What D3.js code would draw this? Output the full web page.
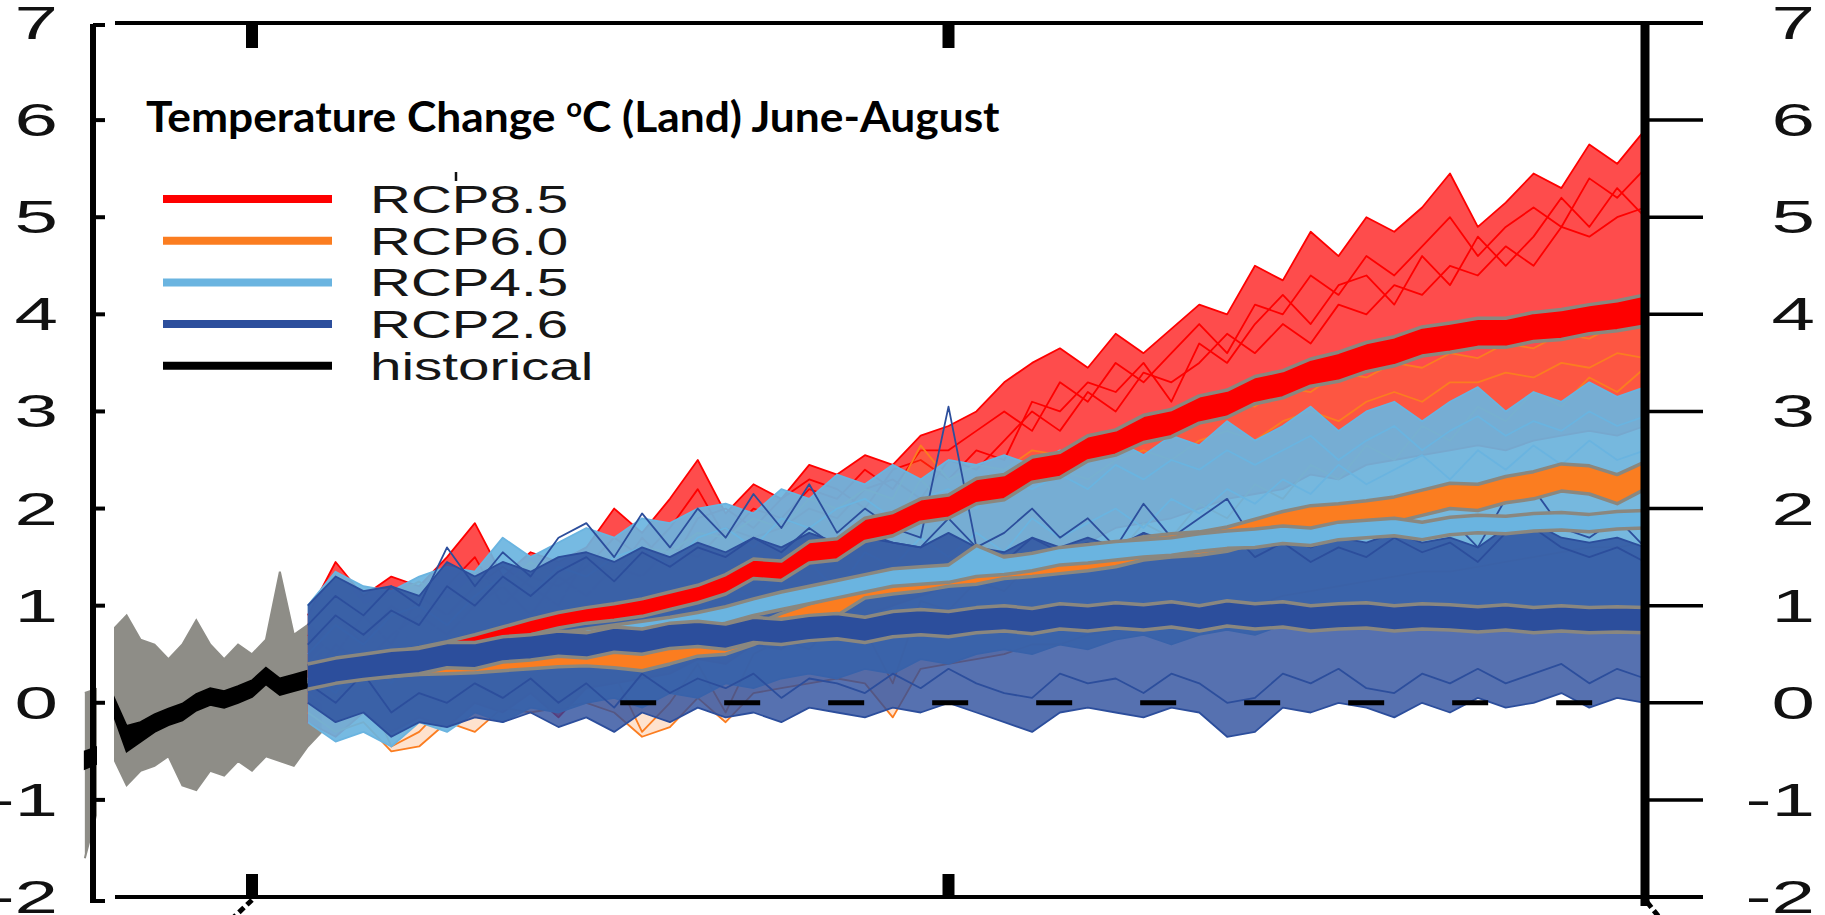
<!DOCTYPE html>
<html>
<head>
<meta charset="utf-8">
<script src="https://cdn.jsdelivr.net/npm/d3@7"></script>
<style>
body { margin:0; background:#fff; overflow:hidden; }
</style>
</head>
<body>
<div id="chart"></div>
<script>
var canvasWidth = 1825;
var canvasHeight = 915;

/* years (historical yearly, projections every 2 years) */
var histYears = d3.range(1988, 2006);
var projYears = d3.range(2004, 2101, 2);
var yTicks = [7, 6, 5, 4, 3, 2, 1, 0, -1, -2];
var xTickYears = [2000, 2050];
var legendNames = ["RCP8.5", "RCP6.0", "RCP4.5", "RCP2.6", "historical"];
var legendColors = ["#fe0000", "#fb7d20", "#6ab4e0", "#2c4e9c", "#000000"];

/* historical runs: envelope and multi-model mean band */
var histHi = [0.1, 0.15, 0.75, 0.9, 0.65, 0.6, 0.45, 0.6, 0.85, 0.6, 0.45, 0.6, 0.5, 0.65, 1.35, 0.7, 0.8, 0.7];
var histLo = [-1.6, -1.05, -0.55, -0.85, -0.7, -0.65, -0.55, -0.85, -0.9, -0.7, -0.75, -0.6, -0.7, -0.55, -0.6, -0.65, -0.45, -0.3];
var histBandLo = [-0.68, -0.62, -0.1, -0.5, -0.4, -0.3, -0.23, -0.18, -0.08, -0.02, -0.05, 0.0, 0.06, 0.19, 0.08, 0.12, 0.16, 0.19];
var histBandHi = [-0.5, -0.45, 0.08, -0.24, -0.2, -0.12, -0.06, -0.01, 0.09, 0.15, 0.12, 0.17, 0.23, 0.36, 0.25, 0.29, 0.33, 0.35];

/* RCP8.5 */
var rcp85Hi = [0.9, 1.45, 1.1, 1.3, 1.2, 1.5, 1.85, 1.3, 1.55, 1.45,
  1.6, 2.0, 1.75, 2.1, 2.5, 1.95, 2.25, 2.1, 2.45, 2.35,
  2.55, 2.45, 2.75, 2.85, 3.0, 3.3, 3.5, 3.65, 3.45, 3.8,
  3.6, 3.85, 4.1, 4.0, 4.5, 4.35, 4.85, 4.6, 5.0, 4.85,
  5.1, 5.45, 4.9, 5.15, 5.45, 5.3, 5.75, 5.55, 5.9];
var rcp85Lo = [-0.2, -0.35, -0.1, -0.3, -0.15, -0.25, 0.0, -0.1, 0.1, -0.15,
  0.15, 0.2, 0.25, 0.3, 0.45, 0.4, 0.6, 0.55, 0.75, 0.8,
  0.9, 1.0, 1.1, 1.2, 1.25, 1.4, 1.45, 1.6, 1.65, 1.8,
  1.85, 1.9, 2.0, 2.1, 2.15, 2.2, 2.35, 2.3, 2.45, 2.5,
  2.55, 2.6, 2.65, 2.6, 2.7, 2.75, 2.8, 2.75, 2.85];
var rcp85RunA = [0.5, 0.9, 0.6, 1.0, 0.8, 1.2, 1.5, 1.0, 1.3, 1.2,
  1.4, 1.7, 1.5, 1.8, 2.2, 1.7, 2.0, 1.9, 2.2, 2.1,
  2.4, 2.2, 2.6, 2.6, 2.8, 3.0, 2.8, 3.3, 3.1, 3.5,
  3.3, 3.6, 3.9, 3.6, 4.1, 4.0, 4.4, 4.2, 4.6, 4.4,
  4.7, 5.0, 4.6, 4.9, 5.1, 4.9, 5.4, 5.2, 5.5];
var rcp85RunB = [0.2, 0.6, 0.4, 0.7, 0.9, 0.7, 1.0, 1.2, 0.9, 1.3,
  1.1, 1.4, 1.3, 1.6, 1.5, 1.8, 1.7, 1.8, 2.0, 1.9,
  2.2, 2.3, 2.1, 2.5, 2.4, 2.7, 3.0, 2.8, 3.2, 3.0,
  3.4, 3.3, 3.5, 3.8, 3.6, 3.9, 3.7, 4.1, 4.0, 4.3,
  4.2, 4.5, 4.4, 4.7, 4.5, 4.9, 4.8, 5.0, 5.1];
var rcp85RunC = [0.7, 0.5, 0.9, 0.6, 1.1, 0.9, 1.2, 1.4, 1.2, 1.0,
  1.5, 1.3, 1.7, 1.4, 1.9, 2.0, 1.8, 2.1, 2.3, 2.2,
  2.0, 2.4, 2.5, 2.3, 2.6, 2.5, 3.1, 3.0, 3.3, 3.2,
  3.5, 3.1, 3.7, 3.5, 3.9, 4.2, 3.9, 4.3, 4.4, 4.1,
  4.6, 4.3, 4.8, 4.5, 4.8, 5.2, 4.9, 5.3, 5.0];
var rcp85BandLo = [0.24, 0.28, 0.33, 0.38, 0.43, 0.47, 0.54, 0.62, 0.7, 0.77,
  0.82, 0.85, 0.89, 0.96, 1.03, 1.12, 1.28, 1.26, 1.44, 1.47,
  1.66, 1.72, 1.86, 1.9, 2.05, 2.09, 2.27, 2.32, 2.49, 2.55,
  2.68, 2.74, 2.88, 2.94, 3.08, 3.14, 3.26, 3.31, 3.41, 3.47,
  3.57, 3.61, 3.66, 3.66, 3.72, 3.74, 3.8, 3.83, 3.88];
var rcp85BandHi = [0.36, 0.42, 0.47, 0.52, 0.57, 0.63, 0.7, 0.78, 0.86, 0.93,
  0.98, 1.02, 1.07, 1.14, 1.21, 1.32, 1.48, 1.46, 1.66, 1.69,
  1.9, 1.96, 2.1, 2.14, 2.31, 2.35, 2.53, 2.58, 2.75, 2.81,
  2.96, 3.02, 3.16, 3.22, 3.36, 3.42, 3.54, 3.61, 3.71, 3.77,
  3.87, 3.91, 3.96, 3.96, 4.02, 4.05, 4.1, 4.14, 4.2];

/* RCP6.0 */
var rcp60Hi = [0.8, 1.35, 1.0, 1.1, 1.25, 1.05, 1.3, 1.2, 1.45, 1.3,
  1.5, 1.4, 1.6, 1.55, 1.75, 1.7, 1.9, 1.8, 2.1, 2.0,
  2.2, 2.1, 2.65, 2.3, 2.45, 2.4, 2.6, 2.55, 2.75, 2.7,
  2.9, 2.85, 3.0, 3.1, 3.05, 3.25, 3.2, 3.4, 3.35, 3.5,
  3.45, 3.6, 3.55, 3.7, 3.65, 3.8, 3.75, 3.9, 3.85];
var rcp60Lo = [-0.1, -0.3, -0.2, -0.5, -0.45, -0.2, -0.3, -0.05, -0.1, -0.05,
  0.0, -0.1, -0.35, -0.25, 0.05, -0.2, 0.1, 0.15, 0.2, 0.25,
  0.2, -0.15, 0.35, 0.4, 0.45, 0.5, 0.6, 0.6, 0.7, 0.75,
  0.8, 0.85, 0.9, 1.0, 1.0, 1.1, 1.15, 1.2, 1.25, 1.3,
  1.35, 1.35, 1.4, 1.45, 1.5, 1.55, 1.6, 1.6, 1.65];
var rcp60RunA = [0.4, 0.7, 0.5, 0.8, 0.6, 0.9, 0.8, 1.0, 0.9, 1.1,
  1.2, 1.0, 1.3, 1.2, 1.4, 1.5, 1.4, 1.6, 1.7, 1.6,
  1.9, 1.8, 2.3, 2.0, 2.2, 2.1, 2.3, 2.4, 2.3, 2.5,
  2.6, 2.5, 2.7, 2.8, 2.7, 2.9, 3.0, 2.9, 3.1, 3.2,
  3.1, 3.3, 3.3, 3.4, 3.35, 3.5, 3.45, 3.6, 3.55];
var rcp60RunB = [0.1, -0.1, 0.2, -0.45, -0.3, 0.0, 0.2, 0.1, 0.3, 0.2,
  0.4, 0.3, -0.3, 0.0, 0.4, -0.1, 0.5, 0.65, 0.55, 0.85,
  0.75, 0.2, 1.05, 0.95, 1.25, 1.15, 1.45, 1.3, 1.6, 1.5,
  1.85, 1.7, 2.05, 1.9, 2.25, 2.1, 2.45, 2.3, 2.65, 2.5,
  2.85, 2.7, 3.05, 2.9, 3.2, 3.05, 3.35, 3.2, 3.45];
var rcp60BandLo = [0.22, 0.24, 0.25, 0.27, 0.29, 0.3, 0.31, 0.33, 0.35, 0.37,
  0.38, 0.36, 0.33, 0.4, 0.48, 0.5, 0.6, 0.72, 0.82, 0.9,
  1.08, 1.12, 1.15, 1.2, 1.22, 1.28, 1.3, 1.33, 1.36, 1.4,
  1.47, 1.5, 1.52, 1.56, 1.64, 1.72, 1.78, 1.8, 1.82, 1.86,
  1.93, 2.0, 1.98, 2.06, 2.1, 2.18, 2.15, 2.05, 2.2];
var rcp60BandHi = [0.36, 0.38, 0.39, 0.41, 0.43, 0.46, 0.47, 0.49, 0.51, 0.53,
  0.55, 0.54, 0.51, 0.58, 0.66, 0.68, 0.8, 0.92, 1.02, 1.1,
  1.3, 1.34, 1.37, 1.42, 1.45, 1.51, 1.53, 1.57, 1.6, 1.64,
  1.71, 1.74, 1.76, 1.81, 1.89, 1.97, 2.03, 2.05, 2.08, 2.12,
  2.19, 2.26, 2.25, 2.33, 2.38, 2.46, 2.44, 2.35, 2.48];

/* RCP4.5 */
var rcp45Hi = [1.0, 1.35, 1.2, 1.15, 1.3, 1.4, 1.35, 1.7, 1.5, 1.65,
  1.8, 1.7, 1.9, 1.85, 2.0, 2.05, 1.95, 2.2, 2.1, 2.35,
  2.25, 2.45, 2.3, 2.5, 2.45, 2.55, 2.45, 2.6, 2.5, 2.7,
  2.55, 2.75, 2.65, 2.9, 2.7, 2.85, 3.05, 2.8, 3.0, 3.1,
  2.9, 3.1, 3.25, 3.0, 3.2, 3.1, 3.3, 3.15, 3.25];
var rcp45Lo = [-0.2, -0.4, -0.3, -0.45, -0.2, -0.3, -0.1, -0.2, -0.05, -0.1,
  0.0, 0.05, -0.05, 0.1, 0.05, 0.2, 0.15, 0.25, 0.3, 0.25,
  0.35, 0.3, 0.45, 0.4, 0.5, 0.55, 0.5, 0.6, 0.55, 0.65,
  0.7, 0.6, 0.7, 0.75, 0.7, 0.8, 0.75, 0.8, 0.85, 0.8,
  0.9, 0.85, 0.9, 0.95, 0.9, 0.95, 1.0, 0.95, 1.0];
var rcp45RunA = [0.5, 0.8, 0.6, 0.9, 1.0, 0.8, 1.1, 1.3, 1.1, 1.4,
  1.3, 1.5, 1.6, 1.4, 1.7, 1.8, 1.6, 1.9, 1.8, 2.0,
  2.1, 1.9, 2.1, 2.2, 2.0, 2.3, 2.2, 2.35, 2.2, 2.45,
  2.3, 2.5, 2.4, 2.6, 2.45, 2.6, 2.75, 2.5, 2.7, 2.85,
  2.6, 2.8, 2.95, 2.75, 2.9, 2.8, 3.0, 2.85, 2.95];
var rcp45RunB = [0.3, 0.1, 0.5, 0.2, 0.6, 0.4, 0.7, 0.5, 0.8, 0.7,
  0.9, 0.8, 1.0, 1.1, 0.9, 1.25, 1.05, 1.35, 1.45, 1.15,
  1.55, 1.4, 1.7, 1.5, 1.75, 1.55, 1.9, 1.7, 1.85, 2.0,
  1.8, 2.1, 1.95, 2.2, 2.05, 2.3, 2.15, 2.45, 2.25, 2.4,
  2.55, 2.3, 2.6, 2.4, 2.65, 2.45, 2.7, 2.5, 2.6];
var rcp45BandLo = [0.2, 0.25, 0.29, 0.32, 0.36, 0.4, 0.44, 0.48, 0.52, 0.56,
  0.6, 0.64, 0.68, 0.71, 0.76, 0.82, 0.9, 0.96, 1.02, 1.08,
  1.14, 1.2, 1.22, 1.24, 1.3, 1.32, 1.36, 1.42, 1.44, 1.47,
  1.5, 1.52, 1.56, 1.59, 1.6, 1.64, 1.62, 1.68, 1.7, 1.72,
  1.68, 1.73, 1.75, 1.74, 1.77, 1.78, 1.76, 1.79, 1.8];
var rcp45BandHi = [0.36, 0.41, 0.45, 0.48, 0.52, 0.56, 0.6, 0.64, 0.68, 0.72,
  0.76, 0.8, 0.84, 0.88, 0.93, 0.99, 1.07, 1.14, 1.2, 1.26,
  1.32, 1.38, 1.4, 1.42, 1.62, 1.5, 1.54, 1.6, 1.63, 1.66,
  1.68, 1.7, 1.74, 1.77, 1.79, 1.82, 1.8, 1.86, 1.88, 1.9,
  1.86, 1.91, 1.93, 1.92, 1.95, 1.96, 1.94, 1.97, 1.98];

/* RCP2.6 */
var rcp26Hi = [1.0, 1.3, 1.15, 1.2, 1.1, 1.45, 1.3, 1.45, 1.35, 1.5,
  1.55, 1.45, 1.6, 1.5, 1.65, 1.55, 1.7, 1.6, 1.75, 1.65,
  1.7, 1.65, 1.6, 1.75, 1.6, 1.55, 1.7, 1.6, 1.7, 1.6,
  1.75, 1.65, 1.7, 1.8, 1.6, 1.7, 1.6, 1.7, 1.65, 1.75,
  1.65, 1.7, 1.6, 1.8, 1.85, 1.7, 1.65, 1.7, 1.6];
var rcp26Lo = [0.0, -0.2, -0.1, -0.35, -0.2, -0.25, -0.15, -0.2, -0.1, -0.25,
  -0.15, -0.3, -0.1, -0.2, -0.05, -0.15, -0.1, -0.2, -0.05, -0.1,
  -0.15, -0.05, -0.1, 0.0, -0.1, -0.2, -0.3, -0.1, -0.05, -0.1,
  -0.15, -0.05, -0.1, -0.35, -0.3, -0.05, -0.1, 0.0, -0.05, -0.15,
  0.0, -0.1, 0.05, -0.05, 0.0, 0.1, -0.05, 0.05, 0.0];
var rcp26RunA = [0.2, 0.0, 0.3, -0.1, 0.1, 0.0, 0.2, 0.05, 0.25, 0.0,
  0.2, -0.05, 0.3, 0.1, 0.25, 0.15, 0.3, 0.05, 0.25, 0.2,
  0.1, 0.3, 0.15, 0.35, 0.2, 0.1, 0.05, 0.3, 0.2, 0.25,
  0.1, 0.3, 0.2, 0.0, 0.05, 0.3, 0.2, 0.35, 0.15, 0.1,
  0.3, 0.2, 0.35, 0.2, 0.3, 0.4, 0.2, 0.35, 0.25];
var rcp26RunB = [0.6, 0.9, 0.7, 0.95, 0.8, 1.2, 1.0, 1.3, 1.1, 1.35,
  1.5, 1.25, 1.55, 1.4, 1.6, 1.5, 1.7, 1.55, 1.8, 1.6,
  1.75, 1.65, 1.6, 1.9, 1.6, 1.45, 1.7, 1.55, 1.65, 1.5,
  1.75, 1.55, 1.7, 1.8, 1.5, 1.65, 1.45, 1.6, 1.5, 1.7,
  1.55, 1.65, 1.45, 1.75, 1.8, 1.6, 1.5, 1.6, 1.45];
var rcp26RunC = [0.8, 1.1, 0.9, 1.2, 1.0, 1.6, 1.2, 1.55, 1.3, 1.7,
  1.85, 1.5, 1.95, 1.6, 2.0, 1.7, 2.15, 1.8, 2.25, 1.75,
  2.0, 1.8, 1.7, 3.05, 1.6, 1.75, 2.0, 1.7, 1.9, 1.6,
  2.05, 1.7, 1.9, 2.1, 1.65, 1.85, 1.6, 1.8, 1.7, 2.05,
  1.75, 1.9, 1.6, 2.1, 2.2, 1.8, 1.7, 1.9, 1.6];
var rcp26BandLo = [0.14, 0.2, 0.24, 0.27, 0.3, 0.36, 0.35, 0.42, 0.44, 0.48,
  0.46, 0.52, 0.5, 0.56, 0.58, 0.55, 0.62, 0.6, 0.64, 0.66,
  0.62, 0.68, 0.7, 0.68, 0.72, 0.74, 0.71, 0.76, 0.74, 0.77,
  0.75, 0.78, 0.74, 0.79, 0.76, 0.78, 0.74, 0.76, 0.77, 0.74,
  0.76, 0.75, 0.73, 0.75, 0.72, 0.74, 0.72, 0.73, 0.72];
var rcp26BandHi = [0.4, 0.46, 0.5, 0.54, 0.56, 0.62, 0.62, 0.68, 0.7, 0.74,
  0.72, 0.78, 0.76, 0.82, 0.84, 0.81, 0.88, 0.86, 0.9, 0.92,
  0.88, 0.94, 0.96, 0.94, 0.98, 1.0, 0.97, 1.02, 1.0, 1.03,
  1.01, 1.04, 1.0, 1.05, 1.02, 1.04, 1.0, 1.02, 1.03, 1.0,
  1.02, 1.01, 0.99, 1.01, 0.98, 1.0, 0.98, 0.99, 0.98];

/* drawing order: back to front */
var scenarios = [
  {color: legendColors[0], hi: rcp85Hi, lo: rcp85Lo, runs: [rcp85RunA, rcp85RunB, rcp85RunC], bandLo: rcp85BandLo, bandHi: rcp85BandHi, fill: 0.7},
  {color: legendColors[1], hi: rcp60Hi, lo: rcp60Lo, runs: [rcp60RunA, rcp60RunB], bandLo: rcp60BandLo, bandHi: rcp60BandHi, fill: 0.22},
  {color: legendColors[2], hi: rcp45Hi, lo: rcp45Lo, runs: [rcp45RunA, rcp45RunB], bandLo: rcp45BandLo, bandHi: rcp45BandHi, fill: 0.92},
  {color: legendColors[3], hi: rcp26Hi, lo: rcp26Lo, runs: [rcp26RunA, rcp26RunB, rcp26RunC], bandLo: rcp26BandLo, bandHi: rcp26BandHi, fill: 0.8}
];

var svg = d3.select("#chart")
    .append("svg")
    .attr("width", canvasWidth)
    .attr("height", canvasHeight);

/*Scales*/
var xScale = d3.scaleLinear().domain([2000, 2100]).range([252, 1645]);
var yScale = d3.scaleLinear().domain([-2, 7]).range([897, 23]);

function areaPath(years, lo, hi) {
    return d3.area()
        .x(function(d, i) { return xScale(years[i]); })
        .y0(function(d, i) { return yScale(lo[i]); })
        .y1(function(d, i) { return yScale(hi[i]); })(years);
}
function linePath(years, vals) {
    return d3.line()
        .x(function(d, i) { return xScale(years[i]); })
        .y(function(d, i) { return yScale(vals[i]); })(years);
}

var plot = svg.append("g");

/*historical spread*/
plot.append("path")
    .attr("d", areaPath(histYears, histLo, histHi))
    .attr("fill", "#8e8d87");
[histLo, histHi].forEach(function(v) {
    plot.append("path")
        .attr("d", linePath(histYears, v))
        .attr("fill", "none")
        .attr("stroke", "#8e8d87")
        .attr("stroke-width", 2);
});

/*model spread for each scenario*/
scenarios.forEach(function(s) {
    plot.append("path")
        .attr("d", areaPath(projYears, s.lo, s.hi))
        .attr("fill", s.color)
        .attr("fill-opacity", s.fill);
    [s.lo, s.hi].concat(s.runs).forEach(function(v) {
        plot.append("path")
            .attr("d", linePath(projYears, v))
            .attr("fill", "none")
            .attr("stroke", s.color)
            .attr("stroke-width", 1.8)
            .attr("stroke-linejoin", "round");
    });
});

/*zero line, visible where the runs thin out*/
plot.append("line")
    .attr("x1", xScale(2026) + 6).attr("x2", xScale(2100) - 4)
    .attr("y1", yScale(0)).attr("y2", yScale(0))
    .attr("stroke", "#000")
    .attr("stroke-width", 5)
    .attr("stroke-dasharray", "36,68");

/*historical mean*/
plot.append("path")
    .attr("d", areaPath(histYears, histBandLo, histBandHi))
    .attr("fill", "#000")
    .attr("stroke", "#000")
    .attr("stroke-width", 2);

/*scenario means*/
scenarios.forEach(function(s) {
    plot.append("path")
        .attr("d", areaPath(projYears, s.bandLo, s.bandHi))
        .attr("fill", s.color);
    [s.bandLo, s.bandHi].forEach(function(v) {
        plot.append("path")
            .attr("d", linePath(projYears, v))
            .attr("fill", "none")
            .attr("stroke", "#8a877f")
            .attr("stroke-width", 3.5)
            .attr("stroke-linejoin", "round");
    });
});

/*white strip between left spine and frame*/
svg.append("rect")
    .attr("x", 97).attr("y", 26)
    .attr("width", 17).attr("height", 868)
    .attr("fill", "#fff");

/*frame*/
var frame = svg.append("g").attr("stroke", "#000");
frame.append("line").attr("x1", 115).attr("x2", 1703).attr("y1", yScale(7)).attr("y2", yScale(7)).attr("stroke-width", 4);
frame.append("line").attr("x1", 115).attr("x2", 1703).attr("y1", yScale(-2)).attr("y2", yScale(-2)).attr("stroke-width", 4);
frame.append("line").attr("x1", 93).attr("x2", 93).attr("y1", yScale(7) + 1).attr("y2", yScale(-2) + 6).attr("stroke-width", 6);
frame.append("line").attr("x1", xScale(2100)).attr("x2", xScale(2100)).attr("y1", yScale(7) - 2).attr("y2", yScale(-2) + 9).attr("stroke-width", 9);

frame.selectAll(".ltick")
    .data(yTicks)
    .join("line")
    .attr("x1", 93).attr("x2", 105)
    .attr("y1", function(d) { return yScale(d) + (d == 7 ? 2 : d == -2 ? 4 : 0); })
    .attr("y2", function(d) { return yScale(d) + (d == 7 ? 2 : d == -2 ? 4 : 0); })
    .attr("stroke-width", 4);

frame.selectAll(".rtick")
    .data(yTicks)
    .join("line")
    .attr("x1", xScale(2100)).attr("x2", 1703)
    .attr("y1", function(d) { return yScale(d); })
    .attr("y2", function(d) { return yScale(d); })
    .attr("stroke-width", 3.5);

frame.selectAll(".ttick")
    .data(xTickYears)
    .join("line")
    .attr("x1", function(d) { return xScale(d); })
    .attr("x2", function(d) { return xScale(d); })
    .attr("y1", yScale(7)).attr("y2", yScale(7) + 25)
    .attr("stroke-width", 12);

frame.selectAll(".btick")
    .data(xTickYears)
    .join("line")
    .attr("x1", function(d) { return xScale(d); })
    .attr("x2", function(d) { return xScale(d); })
    .attr("y1", yScale(-2)).attr("y2", yScale(-2) - 23)
    .attr("stroke-width", 12);

/*cut-off labels under the bottom axis*/
frame.append("line").attr("x1", 252).attr("y1", 900).attr("x2", 234).attr("y2", 917)
    .attr("stroke-width", 5).attr("stroke-dasharray", "7,4");
frame.append("line").attr("x1", 1647).attr("y1", 902).attr("x2", 1659).attr("y2", 917)
    .attr("stroke-width", 5).attr("stroke-dasharray", "7,4");

/*tick labels, both sides*/
function tickLabels(xPos) {
    svg.append("g").selectAll("text")
        .data(yTicks)
        .join("text")
        .attr("transform", function(d) { return "translate(" + xPos + "," + (yScale(d) + 16) + ") scale(1.7,1)"; })
        .attr("text-anchor", "end")
        .style("font-family", "'Liberation Sans', Arial, sans-serif")
        .style("font-size", "46px")
        .attr("fill", "#111")
        .text(function(d) { return d; });
}
tickLabels(58);
tickLabels(1815);

/*legend*/
var legend = svg.append("g");
legendNames.forEach(function(name, i) {
    var ly = 199 + i * 41.7;
    legend.append("line")
        .attr("x1", 163).attr("x2", 332)
        .attr("y1", ly).attr("y2", ly)
        .attr("stroke", legendColors[i])
        .attr("stroke-width", 8);
    legend.append("text")
        .attr("transform", "translate(370," + (ly + 14) + ") scale(1.49,1)")
        .style("font-family", "'Liberation Sans', Arial, sans-serif")
        .style("font-size", "38px")
        .attr("fill", "#161616")
        .text(name);
});
legend.append("line")
    .attr("x1", 456).attr("x2", 456).attr("y1", 172).attr("y2", 181)
    .attr("stroke", "#111").attr("stroke-width", 2.5);

/*title*/
var title = svg.append("text")
    .attr("x", 0).attr("y", 0)
    .style("font-family", "Lato, 'Open Sans', sans-serif")
    .style("font-weight", "bold")
    .style("font-size", "42px")
    .attr("fill", "#000");
title.append("tspan").text("Temperature Change ");
title.append("tspan").attr("dy", -15).style("font-size", "26px").text("o");
title.append("tspan").attr("dy", 15).text("C (Land) June-August");
var tw = title.node().getComputedTextLength();
title.attr("transform", "translate(146,132) scale(" + (854 / tw) + ",1)");
</script>
</body>
</html>
